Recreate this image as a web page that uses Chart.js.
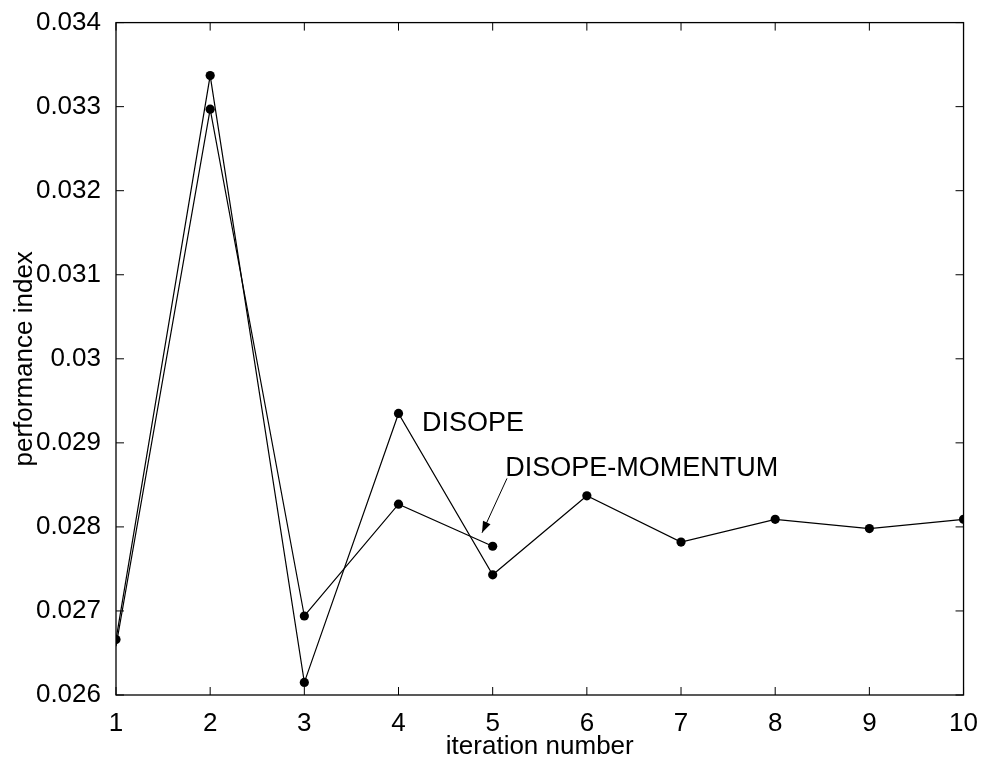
<!DOCTYPE html>
<html>
<head>
<meta charset="utf-8">
<script src="https://cdn.jsdelivr.net/npm/chart.js@4"></script>
<style>
  html, body { margin: 0; padding: 0; background: #fff; }
  #perf { display: block; }
</style>
</head>
<body>
<canvas id="perf" width="983" height="760"></canvas>
<script>
const iterations = [1, 2, 3, 4, 5, 6, 7, 8, 9, 10];
const disope = [0.02666, 0.03337, 0.02615, 0.02935, 0.02743, 0.02837, 0.02782, 0.02809, 0.02798, 0.02809];
const disopeMomentum = [0.02658, 0.03297, 0.02694, 0.02827, 0.02777];
const yTicks = [0.026, 0.027, 0.028, 0.029, 0.03, 0.031, 0.032, 0.033, 0.034];

// text labels placed in data units
const notes = [
  { text: "DISOPE", x: 4.25, y: 0.029234 },
  { text: "DISOPE-MOMENTUM", x: 5.134, y: 0.028696 },
];
const arrow = { from: [5.152, 0.028577], to: [4.887, 0.02793] };

const FONT = "'Liberation Sans', Arial, sans-serif";

function pts(xs, ys) {
  return ys.map((v, i) => ({ x: xs[i], y: v }));
}

// box around the axes with inward ticks on all four sides, plus notes and arrow
const matlabFrame = {
  id: "matlabFrame",
  afterDatasetsDraw(chart) {
    const { ctx, chartArea: a, scales } = chart;
    const xs = scales.x, ys = scales.y;
    const tl = 8;
    ctx.save();
    ctx.strokeStyle = "#000";
    ctx.lineWidth = 1.3;
    ctx.strokeRect(a.left, a.top, a.right - a.left, a.bottom - a.top);
    ctx.beginPath();
    iterations.forEach((v) => {
      const px = xs.getPixelForValue(v);
      ctx.moveTo(px, a.bottom); ctx.lineTo(px, a.bottom - tl);
      ctx.moveTo(px, a.top); ctx.lineTo(px, a.top + tl);
    });
    yTicks.forEach((v) => {
      const py = ys.getPixelForValue(v);
      ctx.moveTo(a.left, py); ctx.lineTo(a.left + tl, py);
      ctx.moveTo(a.right, py); ctx.lineTo(a.right - tl, py);
    });
    ctx.lineWidth = 1;
    ctx.stroke();

    ctx.fillStyle = "#000";
    ctx.font = "27px " + FONT;
    ctx.textBaseline = "middle";
    ctx.textAlign = "left";
    notes.forEach((n) => {
      ctx.fillText(n.text, xs.getPixelForValue(n.x), ys.getPixelForValue(n.y));
    });

    const x0 = xs.getPixelForValue(arrow.from[0]), y0 = ys.getPixelForValue(arrow.from[1]);
    const x1 = xs.getPixelForValue(arrow.to[0]), y1 = ys.getPixelForValue(arrow.to[1]);
    const ang = Math.atan2(y1 - y0, x1 - x0);
    ctx.beginPath();
    ctx.moveTo(x0, y0);
    ctx.lineTo(x1, y1);
    ctx.lineWidth = 1;
    ctx.stroke();
    const hl = 12, hw = 0.35;
    ctx.beginPath();
    ctx.moveTo(x1, y1);
    ctx.lineTo(x1 - hl * Math.cos(ang - hw), y1 - hl * Math.sin(ang - hw));
    ctx.lineTo(x1 - hl * Math.cos(ang + hw), y1 - hl * Math.sin(ang + hw));
    ctx.closePath();
    ctx.fill();
    ctx.restore();
  },
};

const ctx = document.getElementById("perf").getContext("2d");
const chart = new Chart(ctx, {
  type: "scatter",
  data: {
    datasets: [
      {
        label: "DISOPE",
        data: pts(iterations, disope),
        showLine: true,
        borderColor: "#000",
        backgroundColor: "#000",
        borderWidth: 1.2,
        pointRadius: 4.6,
        pointBorderWidth: 0,
        tension: 0,
      },
      {
        label: "DISOPE-MOMENTUM",
        data: pts(iterations, disopeMomentum),
        showLine: true,
        borderColor: "#000",
        backgroundColor: "#000",
        borderWidth: 1.2,
        pointRadius: [0, 4.6, 4.6, 4.6, 4.6],
        pointBorderWidth: 0,
        tension: 0,
      },
    ],
  },
  options: {
    responsive: false,
    animation: false,
    layout: { padding: { top: 22, right: 17, bottom: 0, left: 0 } },
    plugins: {
      legend: { display: false },
      tooltip: { enabled: false },
    },
    scales: {
      x: {
        type: "linear",
        min: 1,
        max: 10,
        afterBuildTicks: (s) => { s.ticks = iterations.map((v) => ({ value: v })); },
        afterFit: (s) => { s.height = 65; },
        grid: { display: false },
        border: { display: false },
        ticks: {
          color: "#000",
          font: { family: FONT, size: 26 },
          padding: 5,
          maxRotation: 0,
          autoSkip: false,
        },
        title: {
          display: true,
          text: "iteration number",
          color: "#000",
          font: { family: FONT, size: 26, lineHeight: 1 },
          padding: { top: 0, bottom: 0 },
        },
      },
      y: {
        type: "linear",
        min: 0.026,
        max: 0.034,
        afterBuildTicks: (s) => { s.ticks = yTicks.map((v) => ({ value: v })); },
        afterFit: (s) => { s.width = 116; },
        grid: { display: false },
        border: { display: false },
        ticks: {
          color: "#000",
          font: { family: FONT, size: 26 },
          padding: 7,
          callback: (v) => String(Number(v.toFixed(3))),
        },
        title: {
          display: true,
          text: "performance index",
          color: "#000",
          font: { family: FONT, size: 26, lineHeight: 1 },
          padding: { top: 12, bottom: 0 },
        },
      },
    },
  },
  plugins: [matlabFrame],
});
</script>
</body>
</html>
